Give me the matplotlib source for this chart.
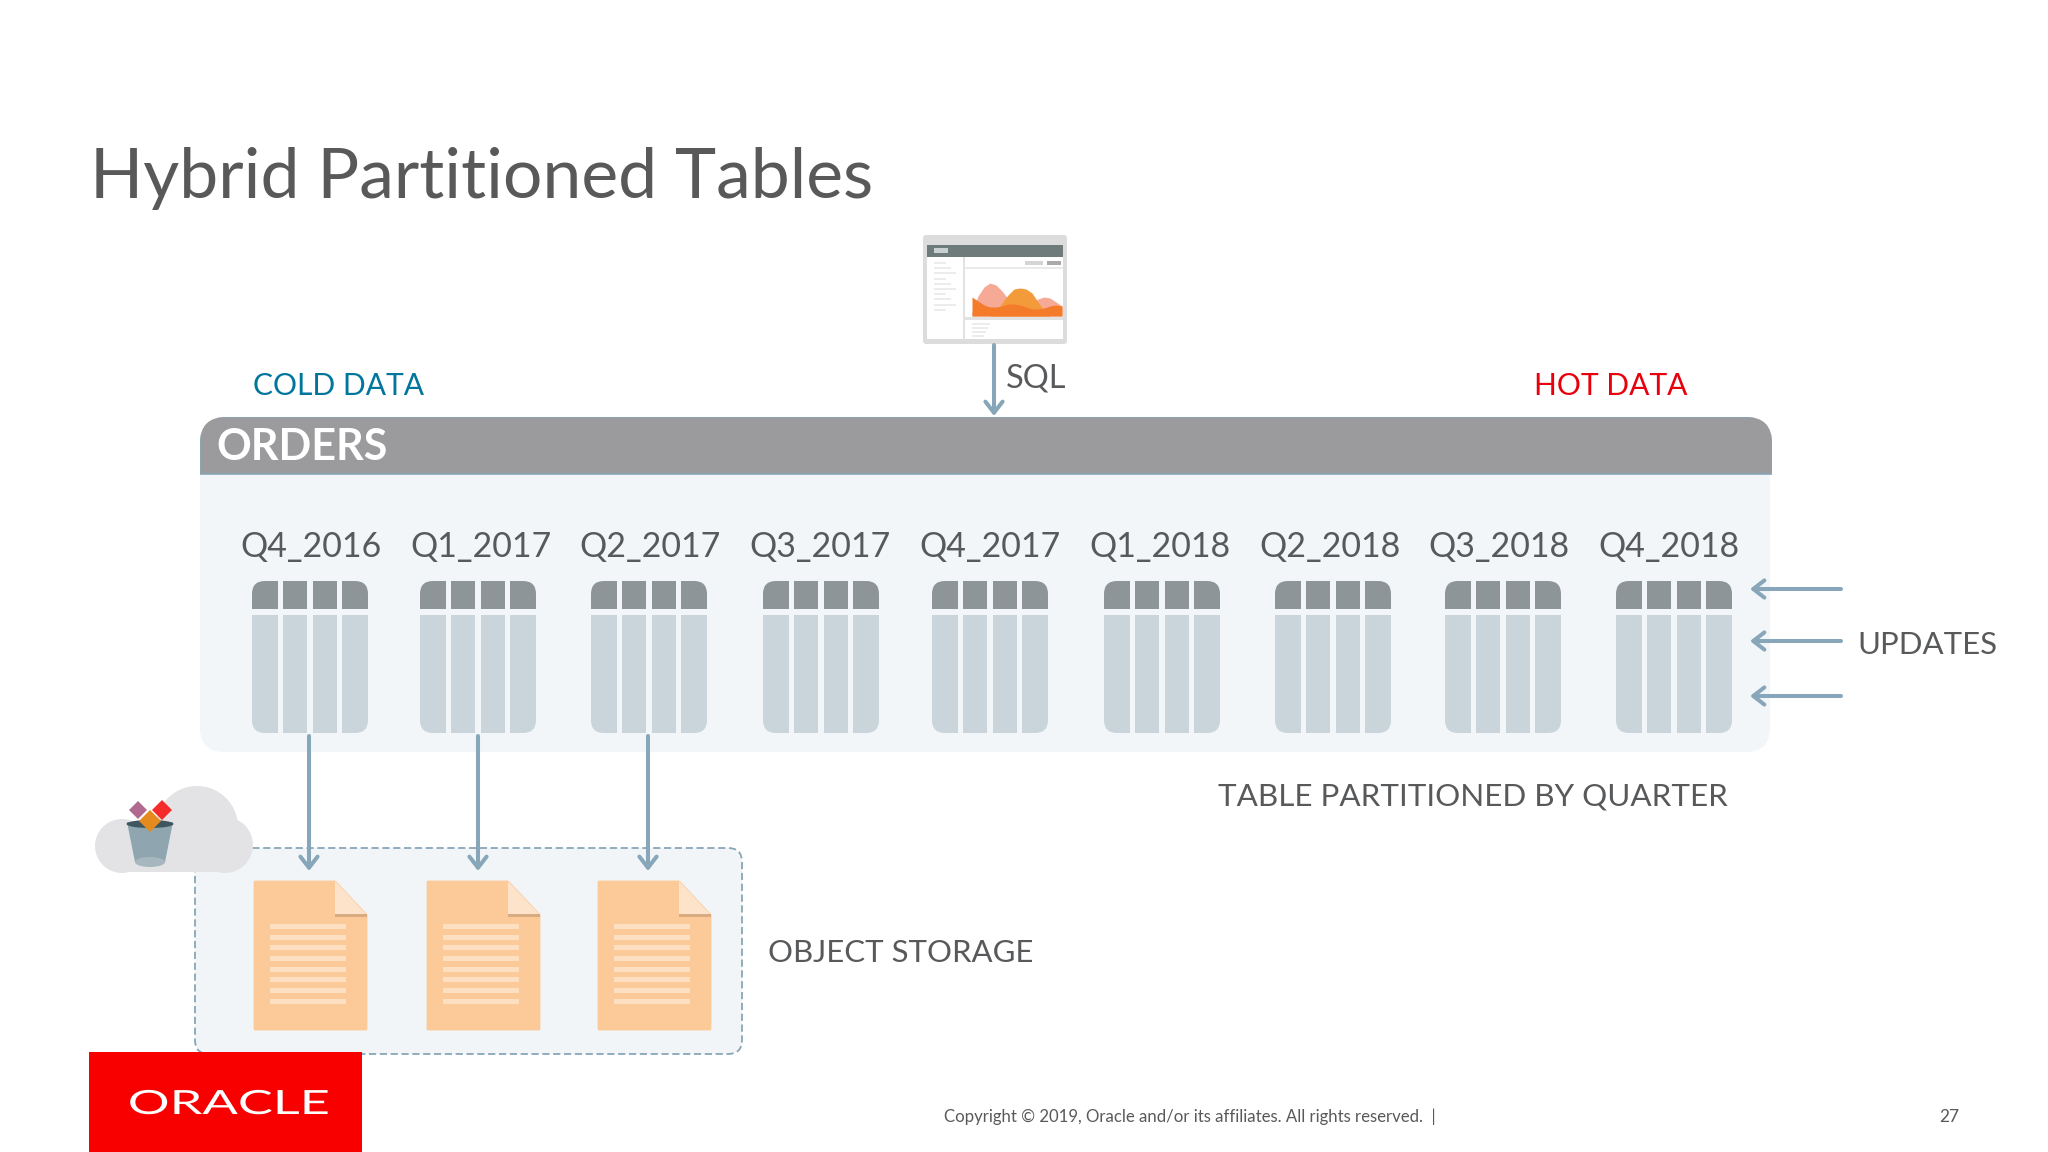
import matplotlib
matplotlib.use("Agg")
import matplotlib.pyplot as plt
from matplotlib.patches import Rectangle, FancyBboxPatch, Circle, Polygon, Ellipse
from matplotlib.patheffects import AbstractPathEffect
from matplotlib.transforms import Affine2D

plt.rcParams['font.family'] = ['Lato', 'DejaVu Sans']

quarters = ["Q4_2016", "Q1_2017", "Q2_2017", "Q3_2017", "Q4_2017", "Q1_2018", "Q2_2018", "Q3_2018", "Q4_2018"]
label_x = [311, 481, 650, 820, 990, 1160, 1330, 1499, 1669]
table_x = [252, 420, 591, 763, 932, 1104, 1275, 1445, 1616]
doc_x = [254, 427, 598]
cold_arrow_x = [309, 478, 648]
update_y = [589, 641, 696]
doc_line_y = [926, 937, 947, 958, 969, 979, 990, 1001]

# little area chart in the app window
chart_x = [972, 978, 984, 990, 996, 1002, 1008, 1014, 1020, 1026, 1032, 1038, 1044, 1050, 1056, 1062]
area_pink = [312, 296, 287, 283, 285, 291, 299, 306, 308, 308, 304, 299, 297, 298, 302, 306]
area_amber = [316, 316, 316, 316, 312, 303, 295, 289, 288, 289, 293, 302, 310, 316, 316, 316]
area_orange = [297, 301, 305, 307, 307, 306, 304, 304, 305, 307, 309, 309, 308, 306, 305, 306]
area_base = 316

GREY_TEXT = "#58595b"
ARROW = "#87a6b9"


class StretchX(AbstractPathEffect):
    def __init__(self, factor, center):
        super().__init__()
        self.factor = factor
        self.center = center

    def draw_path(self, renderer, gc, tpath, affine, rgbFace=None):
        stretch = Affine2D().translate(-self.center, 0).scale(self.factor, 1).translate(self.center, 0)
        renderer.draw_path(gc, tpath, affine + stretch, rgbFace)


def arrow(ax, x0, y0, x1, y1):
    ax.annotate("", xy=(x1, y1), xytext=(x0, y0),
                arrowprops=dict(arrowstyle="->,head_length=0.8,head_width=0.62", color=ARROW, lw=2.9,
                                shrinkA=0, shrinkB=0), zorder=6)


def draw_table(ax, x):
    top, bottom = 581, 733
    clip = FancyBboxPatch((x, top), 116, bottom - top, boxstyle="round,pad=0,rounding_size=13",
                          fc="none", ec="none", transform=ax.transData)
    ax.add_patch(clip)
    for off, w in [(0, 26), (31, 24), (61, 24), (90, 26)]:
        head = Rectangle((x + off, top), w, 28, fc="#8e9598", ec="none", zorder=3)
        body = Rectangle((x + off, top + 34), w, bottom - top - 34, fc="#c9d5da", ec="none", zorder=3)
        ax.add_patch(head)
        ax.add_patch(body)
        head.set_clip_path(clip)
        body.set_clip_path(clip)


def draw_doc(ax, x):
    top, bottom = 881, 1030
    ax.add_patch(Polygon([(x + 1, top + 1), (x + 81, top + 1), (x + 112, top + 34), (x + 112, bottom - 1),
                          (x + 1, bottom - 1)],
                         closed=True, fc="#fcc998", ec="#fcc998", lw=2, joinstyle="round", zorder=3))
    ax.add_patch(Polygon([(x + 81, top), (x + 113, top + 34), (x + 81, top + 34)], closed=True,
                         fc="#fde3ca", ec="none", zorder=4))
    ax.add_patch(Rectangle((x + 81, top + 33), 32, 2.5, fc="#d9ab80", ec="none", zorder=4))
    for y in doc_line_y:
        ax.add_patch(Rectangle((x + 16, y - 2.5), 76, 5, fc="#fddfc2", ec="none", zorder=4))


def draw_app(ax):
    ax.add_patch(FancyBboxPatch((923, 235), 144, 109, boxstyle="round,pad=0,rounding_size=3",
                                fc="#dcdcdc", ec="none", zorder=3))
    ax.add_patch(Rectangle((927, 245), 136, 12, fc="#6f7b7b", ec="none", zorder=4))
    ax.add_patch(Rectangle((927, 257), 136, 82, fc="white", ec="none", zorder=4))
    ax.add_patch(Rectangle((963, 257), 2, 82, fc="#e2e2e2", ec="none", zorder=5))
    ax.add_patch(Rectangle((965, 267), 98, 2, fc="#eaeaea", ec="none", zorder=5))
    ax.add_patch(Rectangle((965, 317), 98, 3, fc="#e2e2e2", ec="none", zorder=5))
    ax.add_patch(Rectangle((934, 248), 14, 5, fc="#c9d0d0", ec="none", zorder=5))
    ax.add_patch(Rectangle((1047, 261), 14, 4, fc="#aaaaaa", ec="none", zorder=5))
    ax.add_patch(Rectangle((1025, 261), 18, 4, fc="#d5d5d5", ec="none", zorder=5))
    for i in range(10):
        ax.add_patch(Rectangle((934, 262 + i * 5.2), 12 + (i % 3) * 5, 2, fc="#ececec", ec="none", zorder=5))
    for i in range(4):
        ax.add_patch(Rectangle((972, 323 + i * 4), 18 - i * 2, 1.5, fc="#ececec", ec="none", zorder=5))
    ax.fill_between(chart_x, area_pink, area_base, color="#f6a995", lw=0, zorder=5)
    ax.fill_between(chart_x, area_amber, area_base, color="#f39b3a", lw=0, zorder=6)
    ax.fill_between(chart_x, area_orange, area_base, color="#f47b2a", lw=0, zorder=7)


def draw_cloud(ax):
    c = "#e3e3e5"
    ax.add_patch(Circle((122, 846), 27, fc=c, ec="none", zorder=7))
    ax.add_patch(Circle((197, 827), 41, fc=c, ec="none", zorder=7))
    ax.add_patch(Circle((225, 845), 28, fc=c, ec="none", zorder=7))
    ax.add_patch(Rectangle((122, 840), 104, 32, fc=c, ec="none", zorder=7))
    ax.add_patch(Polygon([(127, 822), (173, 822), (165, 862), (135, 862)], closed=True,
                         fc="#8fa5b0", ec="none", zorder=8))
    ax.add_patch(Ellipse((150, 862), 30, 10, fc="#a6b7bf", ec="none", zorder=8))
    ax.add_patch(Ellipse((150, 824), 47, 8, fc="#3f5560", ec="none", zorder=8))
    for cx, cy, r, col in [(138, 810, 9, "#b06a8f"), (162, 810, 10, "#f52a2a"), (150, 821, 11, "#e58a1f")]:
        ax.add_patch(Polygon([(cx - r, cy), (cx, cy - r), (cx + r, cy), (cx, cy + r)], closed=True,
                             fc=col, ec="none", zorder=9))


def main():
    fig = plt.figure(figsize=(20.48, 11.52), dpi=100)
    ax = fig.add_axes([0, 0, 1, 1])
    ax.set_xlim(0, 2048)
    ax.set_ylim(1152, 0)
    ax.axis("off")

    ax.text(90, 178, "Hybrid Partitioned Tables", fontsize=50.2, color="#595959", va="center")

    # orders panel
    ax.add_patch(FancyBboxPatch((200, 440), 1570, 312, boxstyle="round,pad=0,rounding_size=24",
                                fc="#f3f6f8", ec="none", zorder=1))
    header_clip = FancyBboxPatch((200, 417), 1572, 90, boxstyle="round,pad=0,rounding_size=26",
                                 fc="none", ec="none", transform=ax.transData)
    ax.add_patch(header_clip)
    head = Rectangle((200, 417), 1572, 57, fc="#9b9b9d", ec="#87a6b9", lw=1.2, zorder=2)
    ax.add_patch(head)
    head.set_clip_path(header_clip)
    ax.text(216, 447, "ORDERS", fontsize=31, fontweight="bold", color="white", va="center", zorder=3)

    for x, name in zip(label_x, quarters):
        ax.text(x, 547, name, fontsize=24.5, color=GREY_TEXT, ha="center", va="center", zorder=3)
    for x in table_x:
        draw_table(ax, x)

    # object storage
    ax.add_patch(FancyBboxPatch((195, 848), 547, 206, boxstyle="round,pad=0,rounding_size=14",
                                fc="#f1f5f8", ec="#87a6b9", lw=1.3, ls=(0, (4, 2)), zorder=2))
    for x in doc_x:
        draw_doc(ax, x)
    for x in cold_arrow_x:
        arrow(ax, x, 736, x, 871)

    arrow(ax, 994, 345, 994, 416)
    for y in update_y:
        arrow(ax, 1841, y, 1750, y)

    draw_app(ax)
    draw_cloud(ax)

    ax.text(253, 386, "COLD DATA", fontsize=21.6, color="#00769c", va="center")
    ax.text(1534, 386, "HOT DATA", fontsize=21.6, color="#e8000d", va="center")
    ax.text(1006, 379, "SQL", fontsize=23.4, color=GREY_TEXT, va="center")
    ax.text(1857, 645, "UPDATES", fontsize=22.4, color=GREY_TEXT, va="center")
    ax.text(1218, 796, "TABLE PARTITIONED BY QUARTER", fontsize=22.6, color=GREY_TEXT, va="center")
    ax.text(768, 953, "OBJECT STORAGE", fontsize=22.4, color=GREY_TEXT, va="center")

    # footer
    ax.add_patch(Rectangle((89, 1052), 273, 100, fc="#f80000", ec="none", zorder=10))
    fig.canvas.draw()
    logo = ax.text(229, 1105, "ORACLE", fontsize=24, color="white", ha="center", va="center", zorder=11)
    logo_cx = ax.transData.transform((229, 1105))[0]
    logo.set_path_effects([StretchX(1.57, logo_cx)])
    ax.text(944, 1117, "Copyright \u00a9 2019, Oracle and/or its affiliates. All rights reserved.  |", fontsize=12.1,
            color=GREY_TEXT, va="center")
    ax.text(1949, 1117, "27", fontsize=12.5, color=GREY_TEXT, ha="center", va="center")

    fig.savefig("out.png", dpi=100)


if __name__ == "__main__":
    main()
